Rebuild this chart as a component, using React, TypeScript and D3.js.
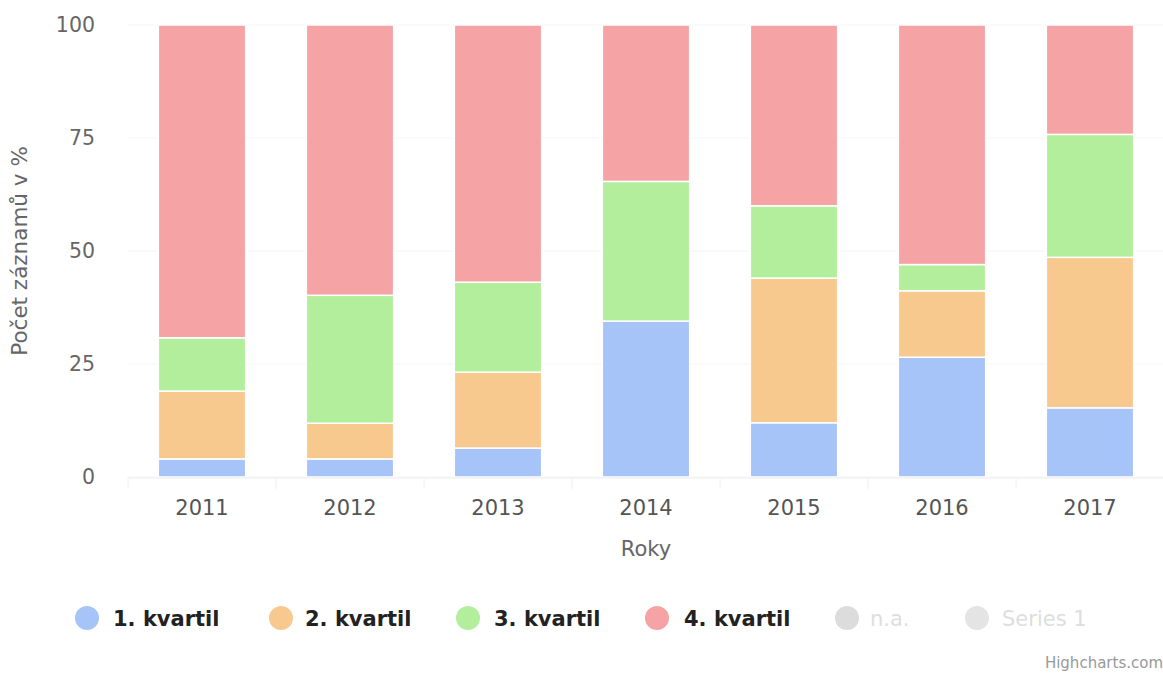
import React from "react";
import * as d3 from "d3";

const years = ["2011", "2012", "2013", "2014", "2015", "2016", "2017"];
const q1 = [4.0, 4.0, 6.4, 34.5, 12.0, 26.5, 15.3];
const q2 = [15.0, 7.9, 16.8, 0, 32.0, 14.7, 33.3];
const q3 = [11.8, 28.3, 19.9, 30.9, 16.0, 5.8, 27.2];
const q4 = [69.2, 59.8, 56.9, 34.6, 40.0, 53.0, 24.2];
const yTicks = [0, 25, 50, 75, 100];
const seriesNames = ["1. kvartil", "2. kvartil", "3. kvartil", "4. kvartil"];
const hiddenNames = ["n.a.", "Series 1"];
const colors = ["#a6c4f7", "#f8c98e", "#b3ee9c", "#f6a3a6"];

const W = 1163, H = 675;
const left = 128, right = 1164, top = 25, bottom = 477;
const FONT = "'DejaVu Sans', sans-serif";

export default function App() {
  const x = d3.scaleBand().domain(years).range([left, right]).paddingInner(0.41).paddingOuter(0.205);
  const y = d3.scaleLinear().domain([0, 100]).range([bottom, top]);
  const rows = years.map((yr, i) => ({ year: yr, a: q1[i], b: q2[i], c: q3[i], d: q4[i] }));
  const stack = d3.stack<any>().keys(["a", "b", "c", "d"])(rows);
  const step = x.step();

  const legendItems = [
    { name: seriesNames[0], c: colors[0], cx: 87, tx: 113, hidden: false },
    { name: seriesNames[1], c: colors[1], cx: 281, tx: 305, hidden: false },
    { name: seriesNames[2], c: colors[2], cx: 468, tx: 494, hidden: false },
    { name: seriesNames[3], c: colors[3], cx: 657, tx: 684, hidden: false },
    { name: hiddenNames[0], c: "#dcdcdc", cx: 847, tx: 870, hidden: true },
    { name: hiddenNames[1], c: "#e4e4e4", cx: 977, tx: 1002, hidden: true },
  ];

  return (
    <svg width={W} height={H} style={{ position: "absolute", left: 0, top: 0, background: "#fff" }}>
      {yTicks.map((t) => (
        <line key={"g" + t} x1={left} x2={right} y1={y(t)} y2={y(t)} stroke="#f5f5f5" strokeWidth={1} />
      ))}
      {stack.map((s, si) =>
        s.map((d: any, i: number) => {
          const h = y(d[0]) - y(d[1]);
          if (h <= 0) return null;
          return (
            <rect
              key={si + "-" + i}
              x={x(years[i])}
              y={y(d[1])}
              width={x.bandwidth()}
              height={h}
              fill={colors[si]}
              stroke="#fff"
              strokeWidth={1.5}
            />
          );
        })
      )}
      <line x1={left} x2={right} y1={bottom + 1} y2={bottom + 1} stroke="#ececec" strokeWidth={1} />
      {years.map((yr, i) => (
        <line key={"t" + yr} x1={left + i * step} x2={left + i * step} y1={bottom + 1} y2={bottom + 12} stroke="#f0f0f0" />
      ))}
      {yTicks.map((t) => (
        <text key={"yl" + t} x={95} y={y(t) + 7} textAnchor="end" fontFamily={FONT} fontSize={20.5} fill="#666">
          {t}
        </text>
      ))}
      {years.map((yr) => (
        <text key={"xl" + yr} x={(x(yr) as number) + x.bandwidth() / 2} y={515} textAnchor="middle" fontFamily={FONT} fontSize={21} fill="#555">
          {yr}
        </text>
      ))}
      <text x={(left + right) / 2} y={556} textAnchor="middle" fontFamily={FONT} fontSize={21} fill="#666">
        Roky
      </text>
      <text transform={`translate(27, ${(top + bottom) / 2}) rotate(-90)`} textAnchor="middle" fontFamily={FONT} fontSize={21.5} fill="#666">
        Počet záznamů v %
      </text>
      {legendItems.map((l) => (
        <g key={l.name}>
          <circle cx={l.cx} cy={618} r={12} fill={l.c} />
          <text x={l.tx} y={626} fontFamily={FONT} fontSize={21} fontWeight={l.hidden ? "normal" : "bold"} fill={l.hidden ? "#dedede" : "#222"}>
            {l.name}
          </text>
        </g>
      ))}
      <text x={1163} y={668} textAnchor="end" fontFamily={FONT} fontSize={15} fill="#999">
        Highcharts.com
      </text>
    </svg>
  );
}
